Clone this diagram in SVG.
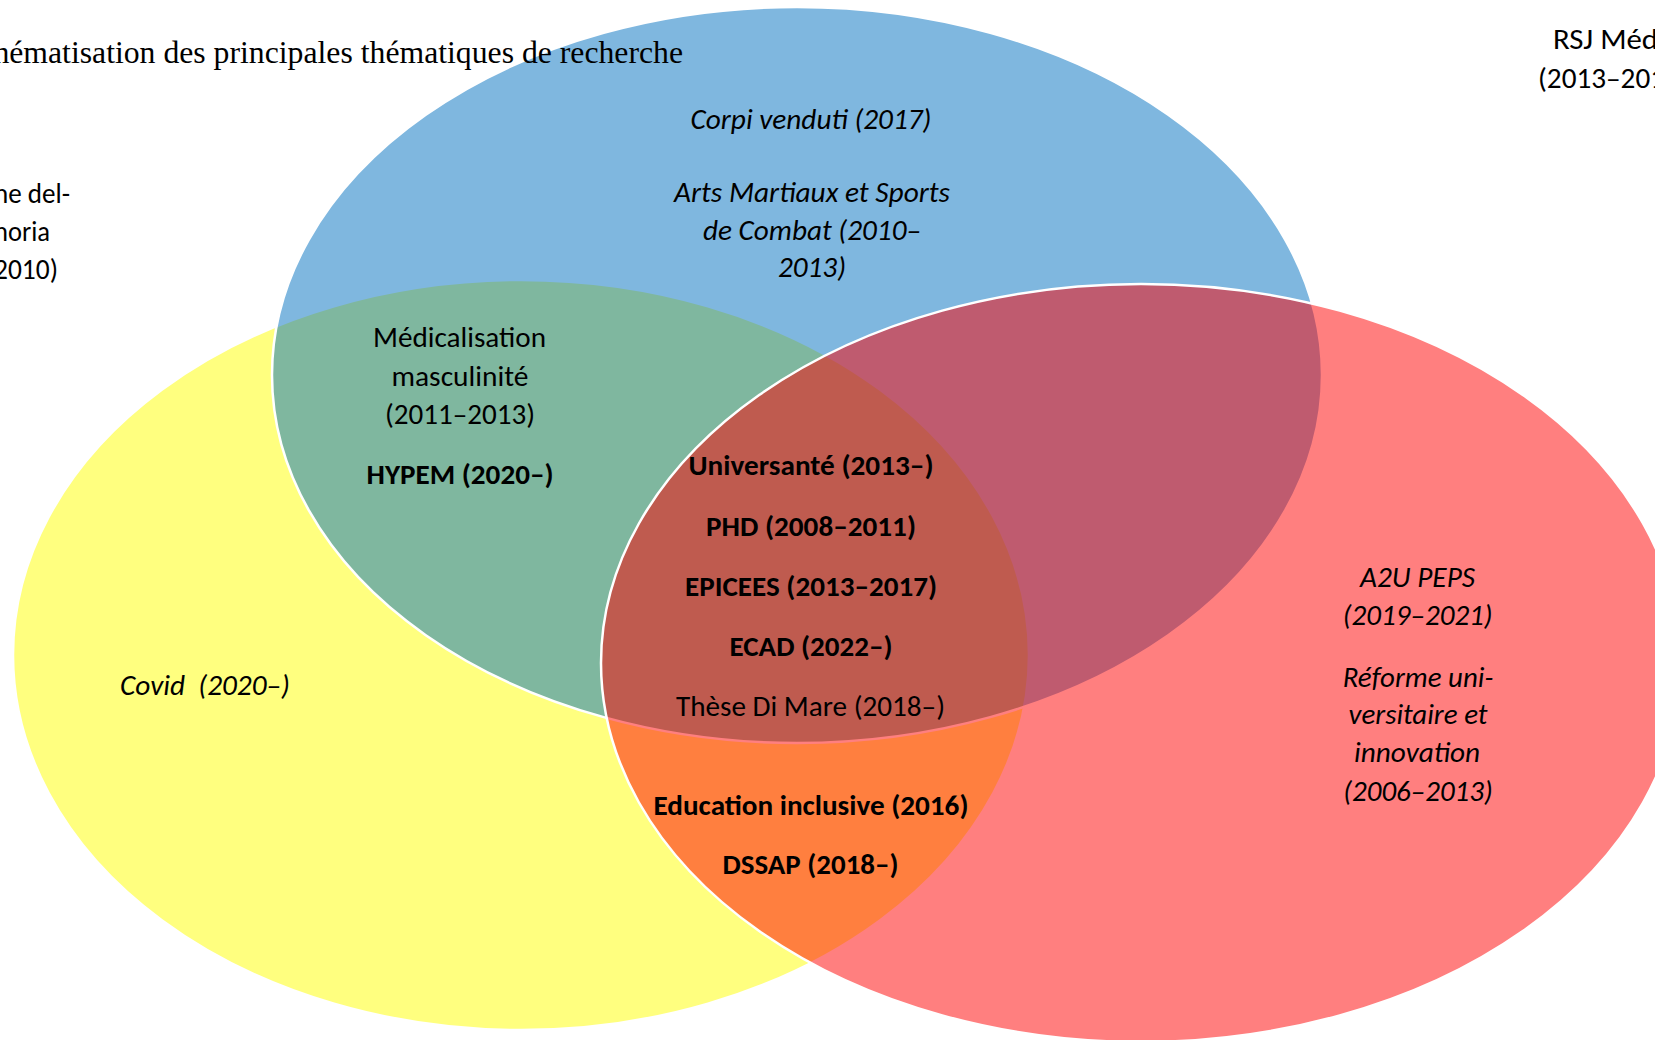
<svg xmlns="http://www.w3.org/2000/svg" width="1655" height="1040" viewBox="0 0 1655 1040">
<style>
.shape{stroke:#ffffff;stroke-width:2.5;fill-opacity:0.5}
.t{font-family:Carlito,Lato,"Liberation Sans",sans-serif;font-size:28px;fill:#000;text-anchor:middle;white-space:pre}
.l{text-anchor:start}
.e{text-anchor:end}
.i{font-style:italic}
.b{font-weight:bold}
.title{font-family:"Liberation Serif","Times New Roman",Times,serif;font-size:32px;fill:#000}
</style>
<rect width="1655" height="1040" fill="#ffffff"/>
<g id="circle-yellow"><ellipse class="shape" cx="521" cy="655" rx="508" ry="375" fill="#FFFF00"/></g>
<g id="circle-blue"><ellipse class="shape" cx="797" cy="375" rx="525" ry="368" fill="#0070C0"/></g>
<g id="circle-red"><ellipse class="shape" cx="1141" cy="663" rx="540" ry="379" fill="#FF0000"/></g>

<g id="title"><text class="title" x="-6.6" y="63" textLength="689.6" lengthAdjust="spacingAndGlyphs">hématisation des principales thématiques de recherche</text></g>

<g id="node-left-cut">
<text class="t l" x="-6" y="203" textLength="76" lengthAdjust="spacingAndGlyphs">ne del-</text>
<text class="t l" x="-6" y="241" textLength="56" lengthAdjust="spacingAndGlyphs">noria</text>
<text class="t l" x="-6" y="279" textLength="64" lengthAdjust="spacingAndGlyphs">2010)</text>
</g>

<g id="node-rsj">
<text class="t l" x="1553" y="49" textLength="105" lengthAdjust="spacingAndGlyphs">RSJ Méd</text>
<text class="t l" x="1538" y="88" textLength="127" lengthAdjust="spacingAndGlyphs">(2013–201</text>
</g>

<g id="node-blue">
<text class="t i" x="811" y="129" textLength="241" lengthAdjust="spacingAndGlyphs">Corpi venduti (2017)</text>
<text class="t i" x="812" y="202" textLength="276" lengthAdjust="spacingAndGlyphs">Arts Martiaux et Sports</text>
<text class="t i" x="812" y="239.5" textLength="218" lengthAdjust="spacingAndGlyphs">de Combat (2010–</text>
<text class="t i" x="812" y="277" textLength="68" lengthAdjust="spacingAndGlyphs">2013)</text>
</g>

<g id="node-green">
<text class="t" x="459.5" y="347" textLength="173" lengthAdjust="spacingAndGlyphs">Médicalisation</text>
<text class="t" x="460" y="386" textLength="137" lengthAdjust="spacingAndGlyphs">masculinité</text>
<text class="t" x="460" y="424" textLength="150" lengthAdjust="spacingAndGlyphs">(2011–2013)</text>
<text class="t b" x="460" y="484" textLength="187" lengthAdjust="spacingAndGlyphs">HYPEM (2020–)</text>
</g>

<g id="node-center">
<text class="t b" x="811" y="475" textLength="245" lengthAdjust="spacingAndGlyphs">Universanté (2013–)</text>
<text class="t b" x="811" y="536" textLength="210" lengthAdjust="spacingAndGlyphs">PHD (2008–2011)</text>
<text class="t b" x="811" y="596" textLength="252" lengthAdjust="spacingAndGlyphs">EPICEES (2013–2017)</text>
<text class="t b" x="811" y="656" textLength="163" lengthAdjust="spacingAndGlyphs">ECAD (2022–)</text>
<text class="t" x="810.5" y="716" textLength="269" lengthAdjust="spacingAndGlyphs">Thèse Di Mare (2018–)</text>
</g>

<g id="node-orange">
<text class="t b" x="811" y="815" textLength="315" lengthAdjust="spacingAndGlyphs">Education inclusive (2016)</text>
<text class="t b" x="810.5" y="874" textLength="176" lengthAdjust="spacingAndGlyphs">DSSAP (2018–)</text>
</g>

<g id="node-yellow">
<text class="t i" x="205" y="695" textLength="170" lengthAdjust="spacingAndGlyphs">Covid  (2020–)</text>
</g>

<g id="node-red">
<text class="t i" x="1417.5" y="587" textLength="115" lengthAdjust="spacingAndGlyphs">A2U PEPS</text>
<text class="t i" x="1417.7" y="625" textLength="150" lengthAdjust="spacingAndGlyphs">(2019–2021)</text>
<text class="t i" x="1418" y="687" textLength="150.6" lengthAdjust="spacingAndGlyphs">Réforme uni-</text>
<text class="t i" x="1418" y="723.5" textLength="139" lengthAdjust="spacingAndGlyphs">versitaire et</text>
<text class="t i" x="1417" y="762" textLength="126" lengthAdjust="spacingAndGlyphs">innovation</text>
<text class="t i" x="1418" y="801" textLength="149.4" lengthAdjust="spacingAndGlyphs">(2006–2013)</text>
</g>
</svg>
